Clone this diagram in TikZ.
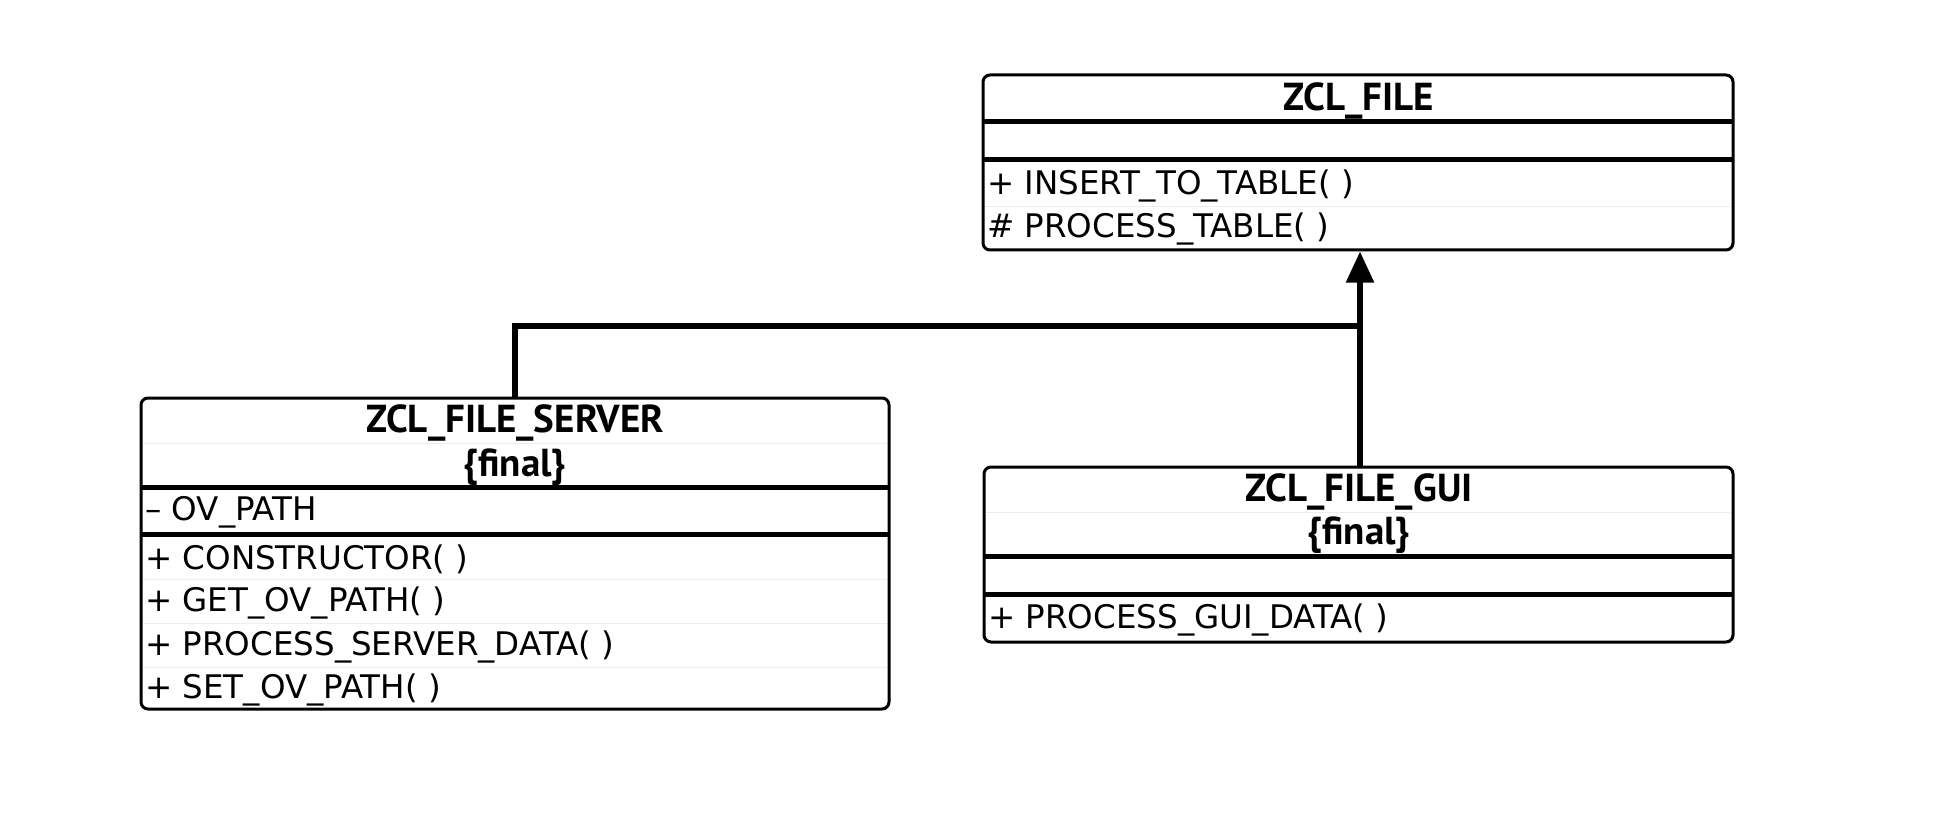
\documentclass[tikz,border=0pt]{standalone}
\usepackage{fontspec}
\setmainfont{DejaVu Sans}
\newfontfamily\titlefont{PT Sans}
\usetikzlibrary{arrows.meta}
\begin{document}
\begin{tikzpicture}[x=1pt,y=-1pt,
  classbox/.style={draw=black,line width=3pt,rounded corners=7pt,inner sep=0pt,fill=none},
  title/.style={font=\titlefont\fontsize{39}{44}\selectfont\bfseries,inner sep=0pt,anchor=center},
  row/.style={font=\fontsize{32.5}{38}\selectfont,inner sep=0pt,anchor=west},
  thick/.style={line width=5pt},
  faint/.style={line width=1pt,draw=black!7},
  conn/.style={line width=5.5pt}
]
\useasboundingbox (0,0) rectangle (1958,826);
% ---------- ZCL_FILE ----------
\node[classbox,minimum width=750pt,minimum height=175pt] (file) at (1358,162.5) {};
\node[title] (fileT) at (1359,101) {ZCL\_FILE};
\draw[thick] (984,122) -- (1732,122);
\draw[thick] (984,160) -- (1732,160);
\draw[faint] (985,207) -- (1731,207);
\node[row] (f1) at (987,186) {+ INSERT\_TO\_TABLE( )};
\node[row] (f2) at (987,229) {\# PROCESS\_TABLE( )};
% ---------- ZCL_FILE_SERVER ----------
\node[classbox,minimum width=748pt,minimum height=311pt] (server) at (515,553.5) {};
\node[title] (sT) at (515,423) {ZCL\_FILE\_SERVER};
\draw[faint] (143,443) -- (887,443);
\node[title] (sF) at (515,467) {\{final\}};
\draw[thick] (142,487) -- (888,487);
\node[row] (s0) at (145,512) {– OV\_PATH};
\draw[thick] (142,534) -- (888,534);
\node[row] (s1) at (145,559) {+ CONSTRUCTOR( )};
\draw[faint] (143,579) -- (887,579);
\node[row] (s2) at (145,603) {+ GET\_OV\_PATH( )};
\draw[faint] (143,623) -- (887,623);
\node[row] (s3) at (145,647) {+ PROCESS\_SERVER\_DATA( )};
\draw[faint] (143,667) -- (887,667);
\node[row] (s4) at (145,690) {+ SET\_OV\_PATH( )};
% ---------- ZCL_FILE_GUI ----------
\node[classbox,minimum width=749pt,minimum height=175pt] (gui) at (1358.5,554.5) {};
\node[title] (gT) at (1359,492) {ZCL\_FILE\_GUI};
\draw[faint] (986,512) -- (1731,512);
\node[title] (gF) at (1359,535) {\{final\}};
\draw[thick] (985,556) -- (1732,556);
\draw[thick] (985,594) -- (1732,594);
\node[row] (g1) at (988,620) {+ PROCESS\_GUI\_DATA( )};
% ---------- connectors ----------
\coordinate (j) at (1360,326);
\draw[conn,-{Triangle[width=27pt,length=31pt]}] (gui.north -| j) -- (file.south -| j);
\draw[conn] (server.north) |- (j);
\end{tikzpicture}
\end{document}
